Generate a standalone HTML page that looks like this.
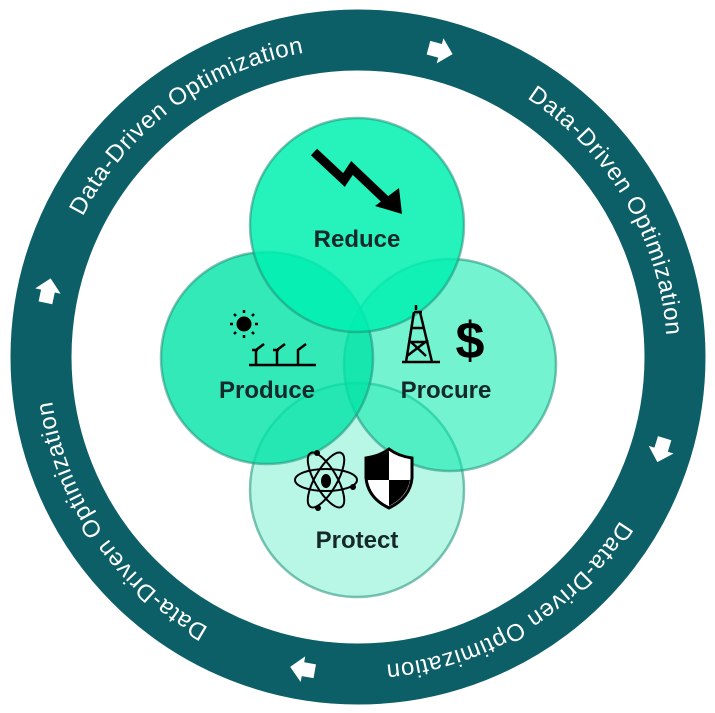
<!DOCTYPE html>
<html><head><style>body{margin:0;background:#fff}svg{display:block}</style></head><body>
<svg width="715" height="713" viewBox="0 0 715 713" xmlns="http://www.w3.org/2000/svg">
<defs>
<path id="rp" d="M 667 357 A 309 309 0 1 1 49 357 A 309 309 0 1 1 667 357"/>
</defs>
<circle cx="358" cy="357" r="317" fill="none" stroke="#0c5f66" stroke-width="61"/>
<g font-family="Liberation Sans, sans-serif" font-size="24" fill="#fff">
<text><textPath href="#rp" startOffset="172" textLength="285">Data-Driven Optimization</textPath></text>
<text><textPath href="#rp" startOffset="641" textLength="285">Data-Driven Optimization</textPath></text>
<text><textPath href="#rp" startOffset="1116" textLength="285">Data-Driven Optimization</textPath></text>
<text><textPath href="#rp" startOffset="1634" textLength="285">Data-Driven Optimization</textPath></text>
</g>
<g fill="#fff">
<g transform="translate(358,357) rotate(-75) translate(317,0)"><polygon points="-7,-12 7,-12 7,0 13,0 0,13 -13,0 -7,0"/></g>
<g transform="translate(358,357) rotate(17) translate(317,0)"><polygon points="-7,-12 7,-12 7,0 13,0 0,13 -13,0 -7,0"/></g>
<g transform="translate(358,357) rotate(100) translate(317,0)"><polygon points="-7,-12 7,-12 7,0 13,0 0,13 -13,0 -7,0"/></g>
<g transform="translate(358,357) rotate(192) translate(317,0)"><polygon points="-7,-12 7,-12 7,0 13,0 0,13 -13,0 -7,0"/></g>
</g>
<g stroke="#1f8f78" stroke-opacity="0.55" stroke-width="2.5">
<circle cx="357" cy="490" r="107" fill="#00dfa6" fill-opacity="0.28"/>
<circle cx="450" cy="365" r="106" fill="#00eaa8" fill-opacity="0.55"/>
<circle cx="267" cy="358" r="106" fill="#00e4a6" fill-opacity="0.8"/>
<circle cx="357" cy="225" r="107" fill="#00f0b0" fill-opacity="0.85"/>
</g>
<g font-family="Liberation Sans, sans-serif" font-weight="bold" font-size="24" fill="#15292a" text-anchor="middle">
<text x="357" y="247">Reduce</text>
<text x="267" y="398">Produce</text>
<text x="446" y="398">Procure</text>
<text x="357" y="548">Protect</text>
</g>
<polyline points="314,152 344,180 352,168 390,204" fill="none" stroke="#000" stroke-width="9" stroke-linejoin="miter"/>
<polygon points="375,206 402,214 399,188" fill="#000"/>
<g fill="#000" stroke="#000">
<circle cx="244" cy="324" r="7"/>
<g stroke-width="2.5">
<line x1="244" y1="310" x2="244" y2="313"/><line x1="244" y1="335" x2="244" y2="338"/>
<line x1="230" y1="324" x2="233" y2="324"/><line x1="255" y1="324" x2="258" y2="324"/>
<line x1="234" y1="314" x2="236" y2="316"/><line x1="252" y1="332" x2="254" y2="334"/>
<line x1="254" y1="314" x2="252" y2="316"/><line x1="234" y1="334" x2="236" y2="332"/>
</g></g>
<g fill="none" stroke="#000" stroke-width="2.5">
<line x1="249" y1="365" x2="316" y2="365"/>
<path d="M256 364 V350 L264 344 M258 350 H252"/>
<path d="M277 364 V350 L285 344 M279 350 H273"/>
<path d="M298 364 V350 L306 344"/>
</g>
<g fill="none" stroke="#000" stroke-width="2.5">
<path d="M402 362 H440 M416 310 V305 M414 312 L406 362 M420 312 L432 362 M412 328 H424 M410 342 H428 M407 356 L428 340 M411 342 L426 356 M414 312 H422"/>
</g>
<text x="470" y="358" font-family="Liberation Sans, sans-serif" font-weight="bold" font-size="52" text-anchor="middle" fill="#000">$</text>
<g fill="none" stroke="#000" stroke-width="2">
<ellipse cx="326" cy="480" rx="31" ry="11"/>
<ellipse cx="326" cy="480" rx="31" ry="11" transform="rotate(60 326 480)"/>
<ellipse cx="326" cy="480" rx="31" ry="11" transform="rotate(-60 326 480)"/>
</g>
<ellipse cx="326" cy="481" rx="5" ry="7" fill="#000"/>
<circle cx="317" cy="453" r="3" fill="#000"/><circle cx="353" cy="487" r="3" fill="#000"/><circle cx="318" cy="508" r="3" fill="#000"/>
<path d="M366 458 Q380 456 389 449 Q398 456 412 458 V478 Q410 498 389 508 Q368 498 366 478 Z" fill="#fff" stroke="#000" stroke-width="3"/>
<path d="M389 451 V480 H367 V459 Q380 457 389 451 Z M389 480 H410 Q407 497 389 506 Z" fill="#000"/>
</svg>
</body></html>
